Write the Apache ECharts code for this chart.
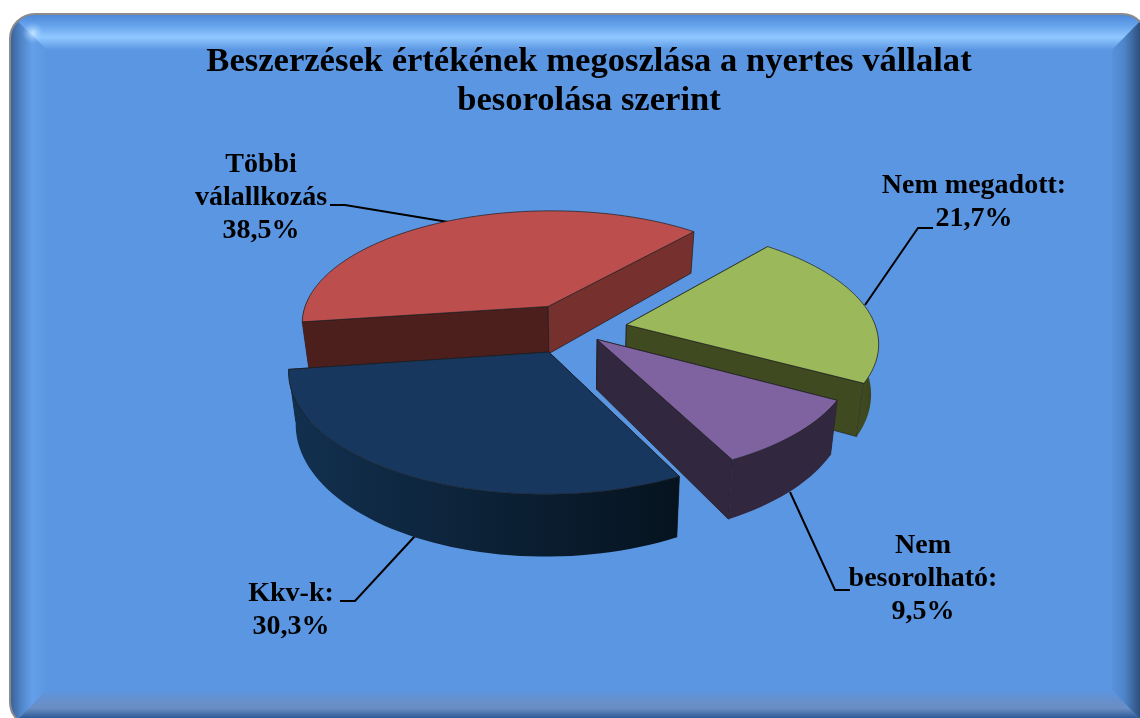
<!DOCTYPE html>
<html>
<head>
<meta charset="utf-8">
<title>Beszerzések</title>
<style>
  html, body { margin: 0; padding: 0; background: #fff; }
  #chart { width: 1140px; height: 718px; }
</style>
<script src="https://cdn.jsdelivr.net/npm/echarts@6/dist/echarts.min.js"></script>
</head>
<body>
<div id="chart"></div>
<script>
const titleText = "Beszerzések értékének megoszlása a nyertes vállalat\nbesorolása szerint";
const categories = ["Többi\nválallkozás", "Nem megadott:", "Nem\nbesorolható:", "Kkv-k:"];
const shares = [38.5, 21.7, 9.5, 30.3];

// look of the slices, same order as categories
const explode = [0.23, 0.21, 0.125, 0.22];
const topColors = ["#bc4f4d", "#9bb95a", "#7f63a0", "#17375e"];
const startWall = ["#4c1e1c", "#3f4a21", "#31273f", "#12304f"];
const endWall = ["#76312f", "#3f4a21", "#31273f", "#12304f"];
const rimLeft = ["#4c1e1c", "#3f4a21", "#31273f", "#12304f"];
const rimRight = ["#4c1e1c", "#364019", "#31273f", "#06131f"];
const labelPos = [[261, 198], [974, 202], [923, 579], [291, 610]];
const leaders = [
  [[330, 205], [345, 205], [448, 222]],
  [[865, 305], [918, 228], [933, 228]],
  [[790, 492], [835, 590], [850, 590]],
  [[415, 536], [355, 601], [340, 601]]
];

// pie plane seen in perspective
const cx = 575, cy = 329, radX = 250, radY = 115, depth = 49, persp = 0.141, startAngle = -98;
const total = shares.reduce((a, b) => a + b, 0);

function project(X, Y, Z) {
  const s = 1 / (1 - persp * Y);
  return [cx + radX * X * s * (1 - 0.025 * Z), cy + radY * Y * s + depth * Z * Math.pow(s, 1.3)];
}

function sliceAngles(i) {
  let from = startAngle;
  for (let k = 0; k < i; k++) from += shares[k] / total * 360;
  return [from, from + shares[i] / total * 360];
}

// angle is clockwise from the back of the pie
function rimPoint(angle, ox, oy, Z) {
  const r = angle * Math.PI / 180;
  return project(ox + Math.sin(r), oy - Math.cos(r), Z);
}

function renderSlice(params, api) {
  const i = params.dataIndex;
  const [a0, a1] = sliceAngles(i);
  const mid = (a0 + a1) / 2 * Math.PI / 180;
  const ox = Math.sin(mid) * explode[i], oy = -Math.cos(mid) * explode[i];
  const edge = { stroke: "#1c1c1c", lineWidth: 0.7 };
  const poly = (points, fill) => ({ type: "polygon", shape: { points }, style: { fill, ...edge } });
  const wall = (a, fill) => poly([
    project(ox, oy, 0), rimPoint(a, ox, oy, 0), rimPoint(a, ox, oy, 1), project(ox, oy, 1)
  ], fill);

  const children = [wall(a0, startWall[i]), wall(a1, endWall[i])];

  // outer rim, only the part that faces the viewer
  [[85, 275], [-275, -85]].forEach(([lo, hi]) => {
    const rimFrom = Math.max(a0, lo), rimTo = Math.min(a1, hi);
    if (rimTo <= rimFrom) return;
    const upper = [], lower = [];
    for (let a = rimFrom; a < rimTo; a += 2) {
      upper.push(rimPoint(a, ox, oy, 0));
      lower.push(rimPoint(a, ox, oy, 1));
    }
    upper.push(rimPoint(rimTo, ox, oy, 0));
    lower.push(rimPoint(rimTo, ox, oy, 1));
    const xs = upper.map(p => p[0]);
    const fill = new echarts.graphic.LinearGradient(Math.min(...xs), 0, Math.max(...xs), 0, [
      { offset: 0, color: rimLeft[i] }, { offset: 1, color: rimRight[i] }
    ], true);
    children.push({ type: "polygon", shape: { points: upper.concat(lower.reverse()) }, style: { fill } });
  });

  const top = [project(ox, oy, 0)];
  for (let a = a0; a < a1; a += 2) top.push(rimPoint(a, ox, oy, 0));
  top.push(rimPoint(a1, ox, oy, 0));
  children.push(poly(top, topColors[i]));

  const pct = api.value(0).toFixed(1).replace(".", ",") + "%";
  children.push({
    type: "text",
    style: {
      text: categories[i] + "\n" + pct,
      x: labelPos[i][0], y: labelPos[i][1],
      fill: "#000",
      font: "bold 28px 'Liberation Serif'",
      lineHeight: 33,
      align: "center",
      verticalAlign: "middle"
    }
  });
  return { type: "group", children };
}

// beveled chart area, runs a bit past the right and bottom of the window
const L = 10, T = 14, R = 1147, B = 727, base = "#5b96e2";
const grad = (x, y, x2, y2, stops) => ({
  type: "linear", x, y, x2, y2, global: true,
  colorStops: stops.map(s => ({ offset: s[0], color: s[1] }))
});
const bevels = [
  { points: [[L, T], [R, T], [1112, 50], [47, 50]],
    fill: grad(0, T, 0, 50, [[0, "#4a86d6"], [0.35, "#6aa6ee"], [0.65, "#8fc8ff"], [1, base]]) },
  { points: [[L, T], [47, 50], [47, 690], [L, B]],
    fill: grad(L, 0, 47, 0, [[0, "#395f94"], [0.3, "#4f85c8"], [0.6, "#659fea"], [1, base]]) },
  { points: [[R, T], [1112, 50], [1112, 690], [R, B]],
    fill: grad(1108, 0, 1140, 0, [[0, base], [0.5, "#4f86ca"], [1, "#2d4f7c"]]) },
  { points: [[L, B], [47, 690], [1112, 690], [R, B]],
    fill: grad(0, 690, 0, 718, [[0, base], [0.3, "#6590cf"], [0.65, "#6a8ec4"], [1, "#2e5a96"]]) }
];

const graphicElements = [
  { type: "rect", z: 0, shape: { x: L, y: T, width: R - L, height: B - T }, style: { fill: base } },
  ...bevels.map(b => ({ type: "polygon", z: 0, shape: { points: b.points }, style: { fill: b.fill } })),
  { type: "circle", z: 0, shape: { cx: 33, cy: 33, r: 11 },
    style: { fill: { type: "radial", x: 0.5, y: 0.5, r: 0.5,
      colorStops: [{ offset: 0, color: "rgba(205,232,255,0.9)" }, { offset: 1, color: "rgba(140,195,255,0)" }] } } },
  // corners outside of the rounded frame
  { type: "rect", z: 0, shape: { x: L - 20, y: T - 20, width: R - L + 40, height: B - T + 40, r: 45 },
    style: { fill: "none", stroke: "#fff", lineWidth: 40 } },
  { type: "rect", z: 0, shape: { x: L, y: T, width: R - L, height: B - T, r: 25 },
    style: { fill: "none", stroke: "#8b8b8b", lineWidth: 2 } },
  ...leaders.map(points => ({ type: "polyline", z: 1, shape: { points },
    style: { fill: "none", stroke: "#000", lineWidth: 2 } }))
];

const myChart = echarts.init(document.getElementById("chart"));
const option = {
  animation: false,
  title: {
    text: titleText,
    left: 584,
    top: 38,
    textAlign: "center",
    z: 6,
    textStyle: { fontFamily: "Liberation Serif", fontWeight: "bold", fontSize: 34.6, lineHeight: 39, color: "#000" }
  },
  graphic: { elements: graphicElements },
  series: [
    {
      type: "custom",
      z: 2,
      coordinateSystem: "none",
      renderItem: renderSlice,
      data: shares.map(v => [v])
    }
  ]
};
myChart.setOption(option);
</script>
</body>
</html>
